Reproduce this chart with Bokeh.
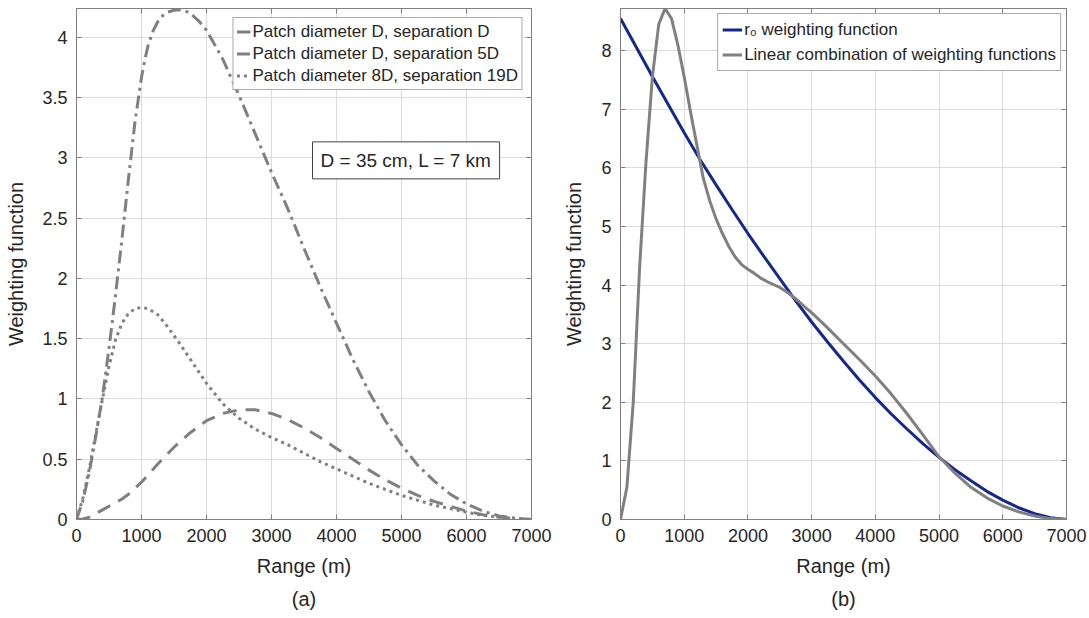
from bokeh.plotting import figure
from bokeh.layouts import row
from bokeh.models import (Range1d, LinearAxis, Legend, LegendItem, Label, Title,
                          FixedTicker, NumeralTickFormatter)
from bokeh.embed import file_html
from bokeh.resources import INLINE

# ---------------- data: panel (a) ----------------
range_D = [0, 100, 200, 300, 400, 500, 600, 700, 800, 900, 1000, 1250, 1500, 1750,
           2000, 2250, 2500, 2750, 3000, 3250, 3500, 3750, 4000, 4250, 4500, 4750,
           5000, 5250, 5500, 5750, 6000, 6250, 6500, 6750, 7000]
sep_D = [0, 0.005, 0.02, 0.05, 0.08, 0.11, 0.14, 0.17, 0.21, 0.26, 0.31, 0.46, 0.6,
         0.72, 0.82, 0.88, 0.91, 0.91, 0.88, 0.83, 0.76, 0.68, 0.59, 0.5, 0.41, 0.33,
         0.26, 0.2, 0.15, 0.11, 0.07, 0.04, 0.02, 0.005, 0]

range_5D = [0, 100, 200, 300, 400, 500, 600, 700, 800, 900, 1000, 1050, 1100, 1175,
            1250, 1325, 1400, 1500, 1575, 1650, 1750, 1875, 2000, 2250, 2500, 2750,
            3000, 3250, 3500, 3750, 4000, 4250, 4500, 4750, 5000, 5250, 5500, 5750,
            6000, 6250, 6500, 6750, 7000]
sep_5D = [0, 0.16, 0.4, 0.7, 1.02, 1.42, 1.86, 2.33, 2.83, 3.3, 3.67, 3.81, 3.93, 4.05,
          4.13, 4.18, 4.21, 4.225, 4.23, 4.225, 4.2, 4.14, 4.06, 3.82, 3.52, 3.2, 2.88,
          2.58, 2.25, 1.93, 1.63, 1.33, 1.06, 0.82, 0.62, 0.45, 0.32, 0.21, 0.13, 0.07,
          0.03, 0.01, 0]

range_19D = [0, 100, 200, 300, 400, 500, 600, 700, 800, 900, 1000, 1100, 1250, 1400,
             1575, 1750, 2000, 2250, 2500, 2750, 3000, 3250, 3500, 3750, 4000, 4250,
             4500, 4750, 5000, 5250, 5500, 5750, 6000, 6250, 6500, 6750, 7000]
sep_19D = [0, 0.18, 0.43, 0.72, 1.0, 1.27, 1.49, 1.63, 1.71, 1.75, 1.76, 1.75, 1.7, 1.6,
           1.47, 1.33, 1.13, 0.96, 0.84, 0.75, 0.68, 0.62, 0.55, 0.48, 0.42, 0.36, 0.3,
           0.25, 0.2, 0.16, 0.12, 0.09, 0.06, 0.035, 0.02, 0.007, 0]

labels_a = ["Patch diameter D, separation D",
            "Patch diameter D, separation 5D",
            "Patch diameter 8D, separation 19D"]
note_a = "D = 35 cm, L = 7 km"

# ---------------- data: panel (b) ----------------
range_r0 = [0, 500, 1000, 1250, 1500, 1750, 2000, 2250, 2500, 2750, 3000, 3250, 3500,
            3750, 4000, 4250, 4500, 4750, 5000, 5250, 5500, 5750, 6000, 6250, 6500,
            6750, 7000]
r0_weight = [8.55, 7.56, 6.6, 6.14, 5.71, 5.29, 4.88, 4.49, 4.11, 3.73, 3.37, 3.03,
             2.7, 2.38, 2.08, 1.8, 1.54, 1.29, 1.06, 0.85, 0.66, 0.48, 0.33, 0.2, 0.1,
             0.03, 0]

range_comb = [0, 100, 200, 300, 400, 500, 600, 700, 800, 900, 1000, 1100, 1200, 1300,
              1400, 1500, 1600, 1700, 1800, 1900, 2000, 2100, 2200, 2300, 2400, 2500,
              2600, 2700, 2800, 2900, 3000, 3250, 3500, 3750, 4000, 4250, 4500, 4750,
              5000, 5250, 5500, 5750, 6000, 6250, 6500, 6750, 7000]
lin_comb = [0, 0.55, 2.0, 4.3, 6.1, 7.55, 8.45, 8.72, 8.55, 8.1, 7.55, 6.95, 6.38,
            5.82, 5.44, 5.13, 4.88, 4.66, 4.48, 4.35, 4.27, 4.2, 4.12, 4.06, 4.01, 3.96,
            3.89, 3.81, 3.72, 3.62, 3.53, 3.27, 3.0, 2.73, 2.45, 2.14, 1.8, 1.44, 1.07,
            0.79, 0.55, 0.37, 0.23, 0.13, 0.06, 0.015, 0]

labels_b = ["r\u2080 weighting function", "Linear combination of weighting functions"]

x_ticks = [0, 1000, 2000, 3000, 4000, 5000, 6000, 7000]
y_ticks_a = [0, 0.5, 1, 1.5, 2, 2.5, 3, 3.5, 4]
y_ticks_b = [0, 1, 2, 3, 4, 5, 6, 7, 8]

FONT = "Liberation Sans"
TXT = "#262626"
AX = "#808080"
GRID = "#dcdcdc"
GRAY = "#808080"
BLUE = "#15298c"


def style(p, yticks, yfmt, ylabel_standoff, caption):
    for ax in p.xaxis + p.yaxis:
        ax.axis_line_color = AX
        ax.major_tick_line_color = AX
        ax.major_tick_in = 5
        ax.major_tick_out = 0
        ax.minor_tick_line_color = None
        ax.major_label_text_font = FONT
        ax.major_label_text_font_size = "18px"
        ax.major_label_text_color = TXT
        ax.axis_label_text_font = FONT
        ax.axis_label_text_font_size = "20px"
        ax.axis_label_text_font_style = "normal"
        ax.axis_label_text_color = TXT
    p.xaxis.ticker = FixedTicker(ticks=x_ticks)
    p.yaxis.ticker = FixedTicker(ticks=yticks)
    p.yaxis.formatter = NumeralTickFormatter(format=yfmt)
    p.xaxis.axis_label = "Range (m)"
    p.yaxis.axis_label = "Weighting function"
    p.xaxis.major_label_standoff = 9
    p.xaxis.axis_label_standoff = 10
    p.yaxis.major_label_standoff = 9
    p.yaxis.axis_label_standoff = ylabel_standoff
    p.xgrid.ticker = FixedTicker(ticks=x_ticks)
    p.ygrid.ticker = FixedTicker(ticks=yticks)
    p.xgrid.grid_line_color = GRID
    p.ygrid.grid_line_color = GRID
    p.outline_line_color = AX
    p.outline_line_alpha = 1
    p.background_fill_color = "white"
    p.border_fill_color = "white"
    # ticks on top and right (box), labels not drawn
    top = LinearAxis(ticker=FixedTicker(ticks=x_ticks), major_label_text_font_size="1px",
                     major_label_text_color=None, major_tick_in=5, major_tick_out=0,
                     major_label_standoff=0, axis_line_color=AX,
                     major_tick_line_color=AX, minor_tick_line_color=None)
    right = LinearAxis(ticker=FixedTicker(ticks=yticks), major_label_text_font_size="1px",
                       major_label_text_color=None, major_tick_in=5, major_tick_out=0,
                       major_label_standoff=0, axis_line_color=AX,
                       major_tick_line_color=AX, minor_tick_line_color=None)
    p.add_layout(top, "above")
    p.add_layout(right, "right")
    p.add_layout(Title(text=caption, align="center", text_font=FONT,
                       text_font_size="20px", text_font_style="normal",
                       text_color=TXT, standoff=13), "below")


# ---------------- panel (a) ----------------
pa = figure(width=560, height=618, x_range=Range1d(0, 7000), y_range=Range1d(0, 4.24),
            output_backend="svg", toolbar_location=None,
            min_border_left=76, min_border_right=29, min_border_top=8, min_border_bottom=99)
style(pa, y_ticks_a, "0.[0]", 12, "(a)")

la1 = pa.line(range_D, sep_D, line_color=GRAY, line_width=3, line_dash="14 9")
la2 = pa.line(range_5D, sep_5D, line_color=GRAY, line_width=3, line_dash="13 5 3 5")
la3 = pa.line(range_19D, sep_19D, line_color=GRAY, line_width=3, line_dash="3 4")

leg_a = Legend(items=[LegendItem(label=labels_a[0], renderers=[la1]),
                      LegendItem(label=labels_a[1], renderers=[la2]),
                      LegendItem(label=labels_a[2], renderers=[la3])],
               location="top_right", margin=9, padding=3, spacing=1,
               glyph_width=14, glyph_height=21, label_height=21, label_standoff=2,
               label_text_font=FONT, label_text_font_size="17px", label_text_color=TXT,
               border_line_color="#555555", border_line_width=1,
               background_fill_color="white", background_fill_alpha=1)
pa.add_layout(leg_a)

pa.add_layout(Label(x=3631, y=2.98, text=note_a, text_font=FONT,
                    text_font_size="19px", text_color=TXT, text_align="left",
                    text_baseline="middle", padding=8,
                    border_line_color="#444444", border_line_width=1,
                    background_fill_color="white"))

# ---------------- panel (b) ----------------
pb = figure(width=529, height=618, x_range=Range1d(0, 7000), y_range=Range1d(0, 8.72),
            output_backend="svg", toolbar_location=None,
            min_border_left=52, min_border_right=23, min_border_top=8, min_border_bottom=99)
style(pb, y_ticks_b, "0", 13, "(b)")

lb1 = pb.line(range_r0, r0_weight, line_color=BLUE, line_width=3)
lb2 = pb.line(range_comb, lin_comb, line_color=GRAY, line_width=3)

leg_b = Legend(items=[LegendItem(label=labels_b[0], renderers=[lb1]),
                      LegendItem(label=labels_b[1], renderers=[lb2])],
               location="top_right", margin=5, padding=4, spacing=2,
               glyph_width=20, glyph_height=23, label_height=23, label_standoff=2,
               label_text_font=FONT, label_text_font_size="17px", label_text_color=TXT,
               border_line_color="#555555", border_line_width=1,
               background_fill_color="white", background_fill_alpha=1)
pb.add_layout(leg_b)

layout = row(pa, pb, spacing=0)
open("out.html", "w").write(file_html(layout, INLINE))
